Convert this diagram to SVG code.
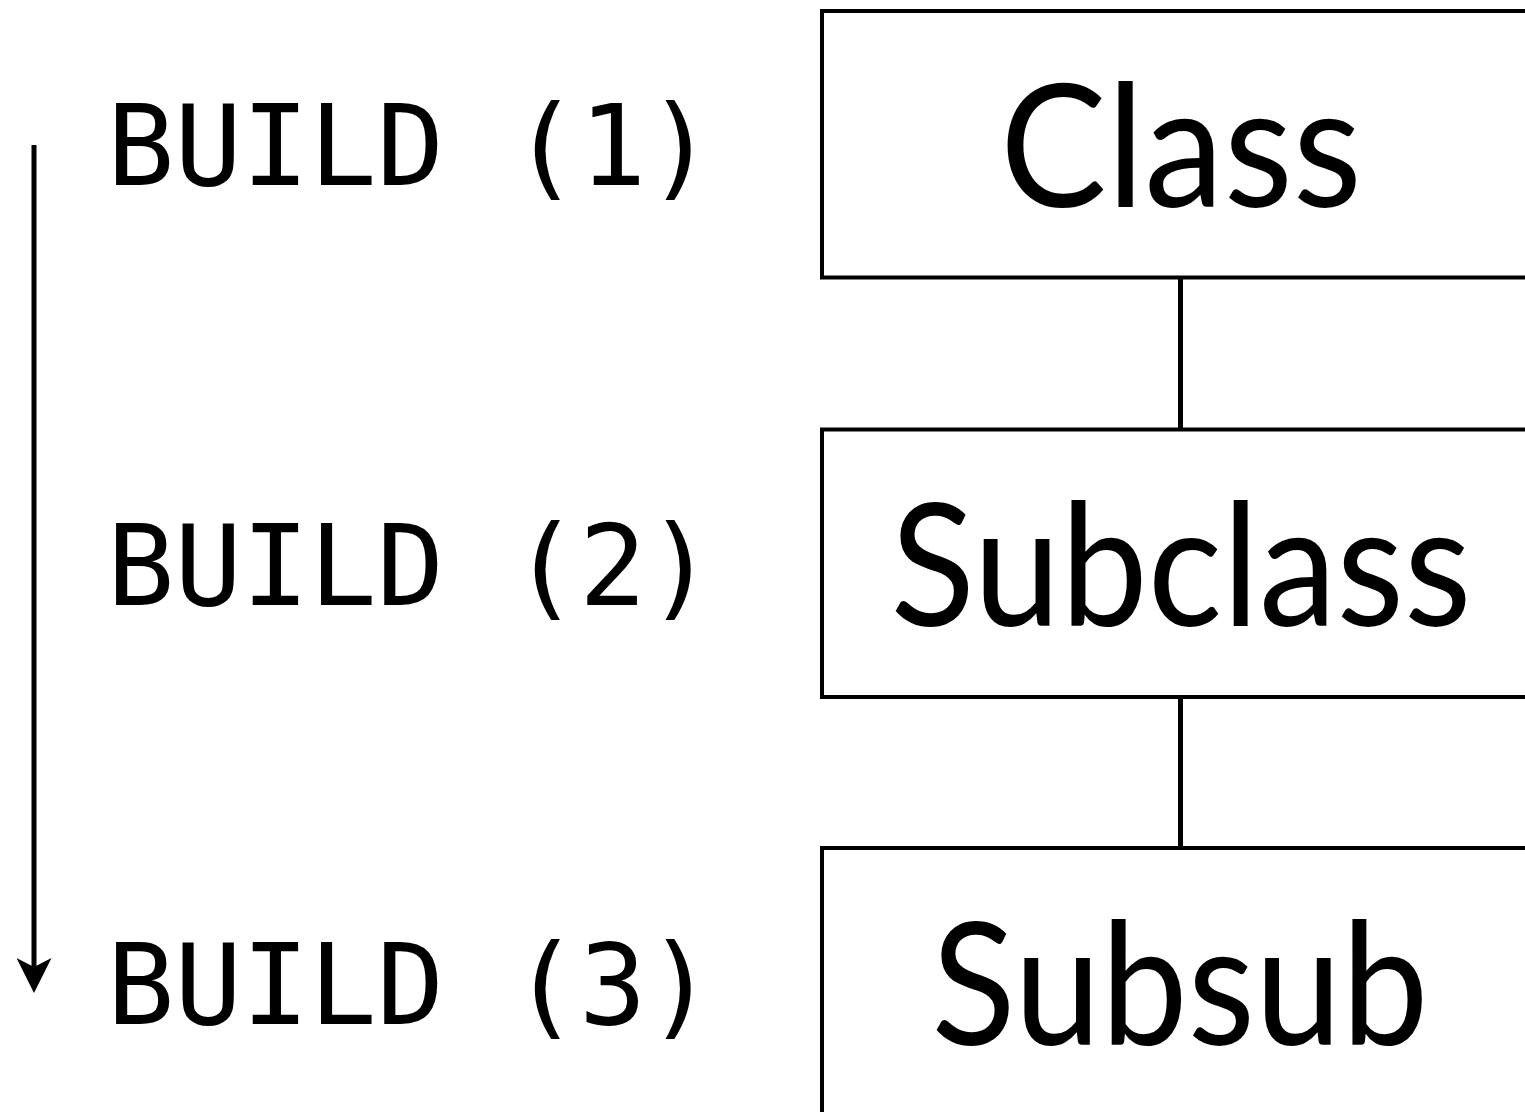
<svg xmlns="http://www.w3.org/2000/svg" width="1525" height="1112" viewBox="0 0 1525 1112">
<style>
.box{fill:#fff;stroke:#000;stroke-width:4}
.lbl{font-family:"Lato","Open Sans",sans-serif;font-size:170px;fill:#000;text-anchor:middle}
.step{font-family:"DejaVu Sans Mono","Liberation Mono",monospace;font-size:112px;fill:#000}
.conn{stroke:#000;stroke-width:5;fill:none}
</style>
<defs>
<marker id="ah" markerUnits="userSpaceOnUse" viewBox="0 0 35 35" markerWidth="35" markerHeight="35" refX="12" refY="17.5" orient="auto">
<path d="M0,0 L35,17.5 L0,35 L9,17.5 Z" fill="#000"/>
</marker>
</defs>
<rect width="1525" height="1112" fill="#fff"/>
<g id="connectors">
<line class="conn" x1="1180.5" y1="277.5" x2="1180.5" y2="429.5"/>
<line class="conn" x1="1180.5" y1="697" x2="1180.5" y2="848"/>
<line class="conn" x1="34" y1="145" x2="34" y2="970" marker-end="url(#ah)"/>
</g>
<g id="node-class">
<rect class="box" x="822" y="11" width="720" height="266.5"/>
<text class="lbl" x="1181" y="207" textLength="362" lengthAdjust="spacingAndGlyphs">Class</text>
</g>
<g id="node-subclass">
<rect class="box" x="822" y="429.5" width="720" height="267.5"/>
<text class="lbl" x="1181" y="626" textLength="581" lengthAdjust="spacingAndGlyphs">Subclass</text>
</g>
<g id="node-subsub">
<rect class="box" x="822" y="848" width="720" height="300"/>
<text class="lbl" x="1180" y="1045" textLength="497" lengthAdjust="spacingAndGlyphs">Subsub</text>
</g>
<g id="build-labels">
<text class="step" x="107" y="185">BUILD (1)</text>
<text class="step" x="107" y="605">BUILD (2)</text>
<text class="step" x="107" y="1024">BUILD (3)</text>
</g>
</svg>
